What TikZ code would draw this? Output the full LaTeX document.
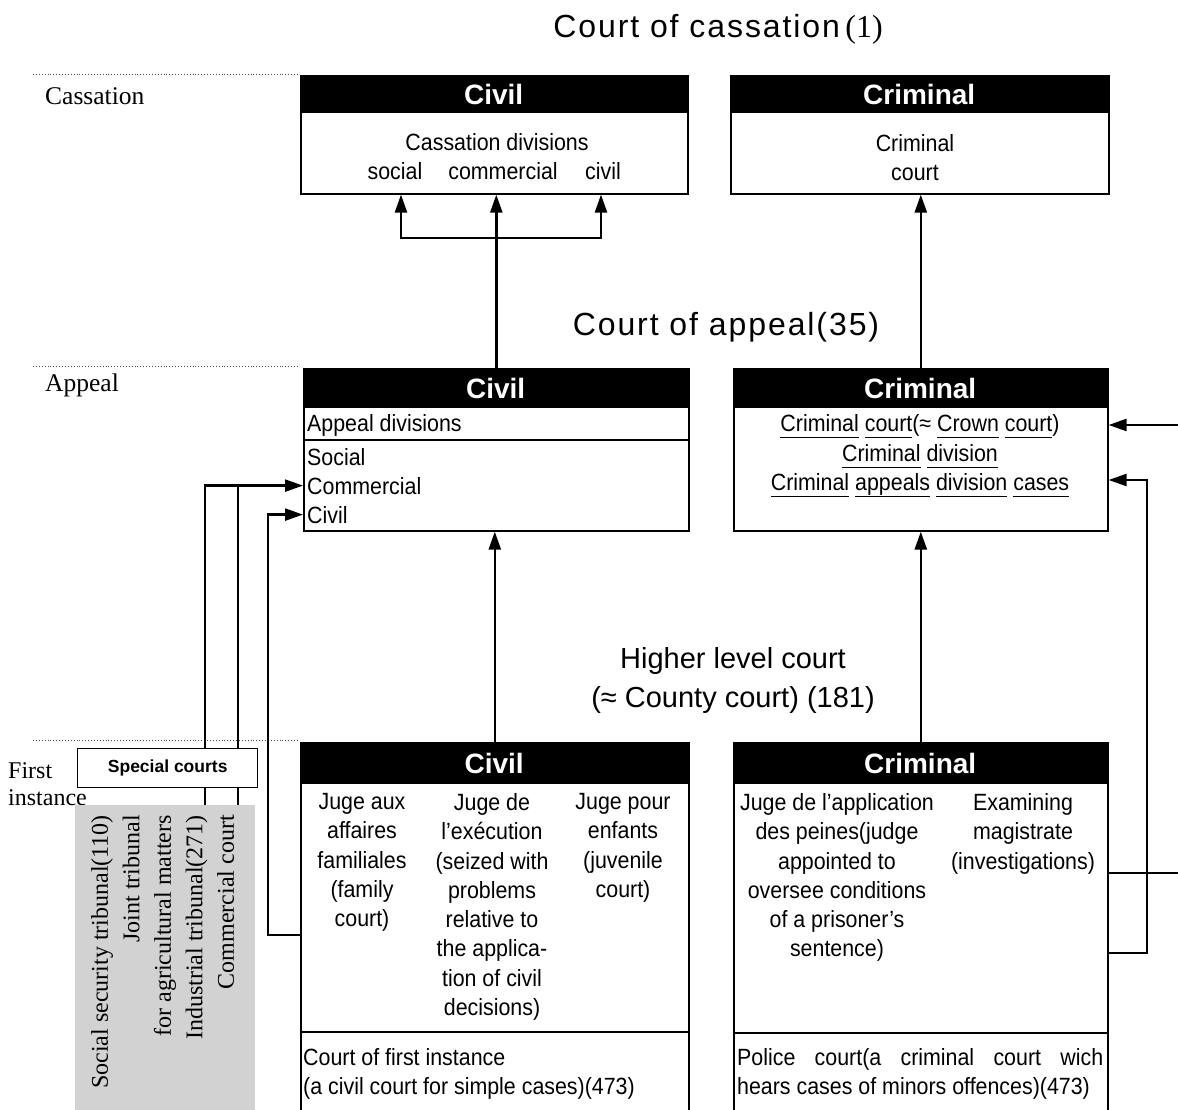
\documentclass[tikz,border=0pt]{standalone}
\usepackage{fontspec}
\setmainfont{Liberation Serif}
\setsansfont{Liberation Sans}
\newfontfamily\bodyfont[FakeStretch=0.91]{Liberation Sans}
\newfontfamily\titlefont[LetterSpace=6]{Liberation Sans}
\usetikzlibrary{arrows.meta,calc}
\newcommand\uln[1]{\underline{#1\vphantom{p}}}
\begin{document}
\begin{tikzpicture}[x=1pt,y=-1pt,
  box/.style={draw=black,line width=1.6pt,fill=white,inner sep=0pt,anchor=north west},
  head/.style={fill=black,text=white,font=\sffamily\bfseries\fontsize{28}{28}\selectfont,inner sep=0pt,anchor=north west},
  body/.style={font=\bodyfont\fontsize{23.5}{29.3}\selectfont,align=center,inner sep=0pt},
  title/.style={font=\titlefont\fontsize{32}{39}\selectfont,align=center,inner sep=0pt},
  subtitle/.style={font=\sffamily\fontsize{29}{39}\selectfont,align=center,inner sep=0pt},
  level/.style={font=\rmfamily\fontsize{25.5}{27}\selectfont,inner sep=0pt,align=left},
  conn/.style={line width=2.4pt,-{Triangle[width=12pt,length=18pt]}},
  plain/.style={line width=2.4pt},
  sep/.style={line width=1.2pt},
  guide/.style={dotted,line width=0.9pt,black!70}
]
\useasboundingbox (0,0) rectangle (1178,1110);
\fill[white] (0,0) rectangle (1178,1110);

% level guides and labels
\draw[guide] (33,74) -- (298,74);
\draw[guide] (33,366) -- (298,366);
\draw[guide] (33,740) -- (298,740);
\node[level,anchor=base west] (lCass) at (45,105) {Cassation};
\node[level,anchor=base west] (lApp) at (45,391) {Appeal};
\node[level,anchor=north west,font=\rmfamily\fontsize{24}{27}\selectfont] (lFirst) at (8,762) {First\\instance};

% titles
\node[title,anchor=base] (tCass) at (718,38) {Court of cassation\,{\rmfamily(1)}};
\node[title,anchor=base] (tApp) at (726,335) {Court of appeal(35)};
\node[subtitle,anchor=north] (tHigh) at (733,647) {Higher level court\\(≈ County court) (181)};

% cassation civil
\node[box,minimum width=387pt,minimum height=118pt] (cassC) at (300,75) {};
\node[head,minimum width=387pt,minimum height=38pt] (cassCh) at (cassC.north west) {Civil};
\node[body,anchor=base] (cassDiv) at (497,151) {Cassation divisions};
\node[body,anchor=base] (cSoc) at (395,180) {social};
\node[body,anchor=base] (cCom) at (503,180) {commercial};
\node[body,anchor=base] (cCiv) at (603,180) {civil};

% cassation criminal
\node[box,minimum width=378pt,minimum height=118pt] (cassR) at (730,75) {};
\node[head,minimum width=378pt,minimum height=38pt] (cassRh) at (cassR.north west) {Criminal};
\node[body,anchor=north] (cassRt) at (915,134.2) {Criminal\\court};

% appeal civil
\node[box,minimum width=385pt,minimum height=162pt] (apC) at (303,368) {};
\node[head,minimum width=385pt,minimum height=40pt] (apCh) at (apC.north west) {Civil};
\draw[sep] (apC.west |- 0,440) -- (apC.east |- 0,440);
\node[body,anchor=base west] (apDiv) at (307,431) {Appeal divisions};
\node[body,anchor=base west] (apSoc) at (307,465) {Social};
\node[body,anchor=base west] (apComm) at (307,494) {Commercial};
\node[body,anchor=base west] (apCiv) at (307,523) {Civil};

% appeal criminal
\node[box,minimum width=374pt,minimum height=162pt] (apR) at (733,368) {};
\node[head,minimum width=374pt,minimum height=40pt] (apRh) at (apR.north west) {Criminal};
\node[body,anchor=base] (apR1) at (920,431) {\uln{Criminal} \uln{court}(≈ \uln{Crown} \uln{court})};
\node[body,anchor=base] (apR2) at (920,461) {\uln{Criminal} \uln{division}};
\node[body,anchor=base] (apR3) at (920,490) {\uln{Criminal} \uln{appeals} \uln{division} \uln{cases}};

% first instance civil
\node[box,minimum width=388pt,minimum height=372pt] (fiC) at (300,742) {};
\node[head,minimum width=388pt,minimum height=42pt] (fiCh) at (fiC.north west) {Civil};
\draw[sep] (fiC.west |- 0,1032) -- (fiC.east |- 0,1032);
\node[body,anchor=north] (jaf) at (362,793.2) {Juge aux\\affaires\\familiales\\(family\\court)};
\node[body,anchor=north] (jex) at (492,793.2) {Juge de\\l’exécution\\(seized with\\problems\\relative to\\the applica-\\tion of civil\\decisions)};
\node[body,anchor=north] (jpe) at (623,793.2) {Juge pour\\enfants\\(juvenile\\court)};
\node[body,anchor=base west] (cfi1) at (303,1065) {Court of first instance};
\node[body,anchor=base west] (cfi2) at (303,1094) {(a civil court for simple cases)(473)};

% first instance criminal
\node[box,minimum width=374pt,minimum height=372pt] (fiR) at (733,742) {};
\node[head,minimum width=374pt,minimum height=42pt] (fiRh) at (fiR.north west) {Criminal};
\draw[sep] (fiR.west |- 0,1033) -- (fiR.east |- 0,1033);
\node[body,anchor=north] (jap) at (837,793.2) {Juge de l’application\\des peines(judge\\appointed to\\oversee conditions\\of a prisoner’s\\sentence)};
\node[body,anchor=north] (exm) at (1023,793.2) {Examining\\magistrate\\(investigations)};
\node[body,anchor=base west] (pc1) at (737,1065) {\makebox[366pt][s]{Police court(a criminal court wich}};
\node[body,anchor=base west] (pc2) at (737,1094) {hears cases of minors offences)(473)};

% special courts area
\node[fill=gray!35,minimum width=180pt,minimum height=305pt,anchor=north west,inner sep=0pt] (grey) at (75,805) {};
\node[rotate=90,anchor=north east,align=right,font=\rmfamily\fontsize{24}{31.5}\selectfont,inner sep=0pt] (trib) at (91,815) {Social security tribunal(110)\\Joint tribunal\\for agricultural matters\\Industrial tribunal(271)\\Commercial court};

% connectors: cassation level
\coordinate (split) at (apC.north |- 0,238);
\coordinate (xs) at (401,0);
\coordinate (xc) at (601,0);
\draw[plain] (apC.north) -- (split);
\draw[conn] (split) -- (split |- cassC.south);
\draw[conn] (split) -| (cassC.south -| xs);
\draw[conn] (split) -| (cassC.south -| xc);
\draw[conn] (apR.north) -- (apR.north |- cassR.south);

% first instance -> appeal
\draw[conn] (fiC.north) -- (fiC.north |- apC.south);
\draw[conn] (fiR.north) -- (fiR.north |- apR.south);

% civil first instance -> appeal civil division
\coordinate (fcL) at (fiC.west |- 0,935);
\draw[conn] (fcL) -- (268,935) |- (apC.west |- apCiv);

% special courts -> commercial
\coordinate (sc1) at (205,805);
\coordinate (sc2) at (238,805);
\draw[conn] (sc1) |- (apC.west |- apComm);
\draw[plain] (sc2) -- (sc2 |- apComm);
\node[draw,line width=1.4pt,fill=white,minimum width=180pt,minimum height=39pt,anchor=north west,inner sep=0pt,font=\sffamily\bfseries\fontsize{17.5}{20}\selectfont] (spec) at (77,748) {Special courts};

% criminal right-hand connectors
\coordinate (edgeA) at (1178,425);
\coordinate (edgeB) at (1178,873);
\draw[conn] (edgeA) -- (apR.east |- edgeA);
\draw[plain] (fiR.east |- edgeB) -- (edgeB);
\draw[conn] (fiR.east |- 0,953) -| (1147,480) -- (apR.east |- 0,480);
\end{tikzpicture}
\end{document}
